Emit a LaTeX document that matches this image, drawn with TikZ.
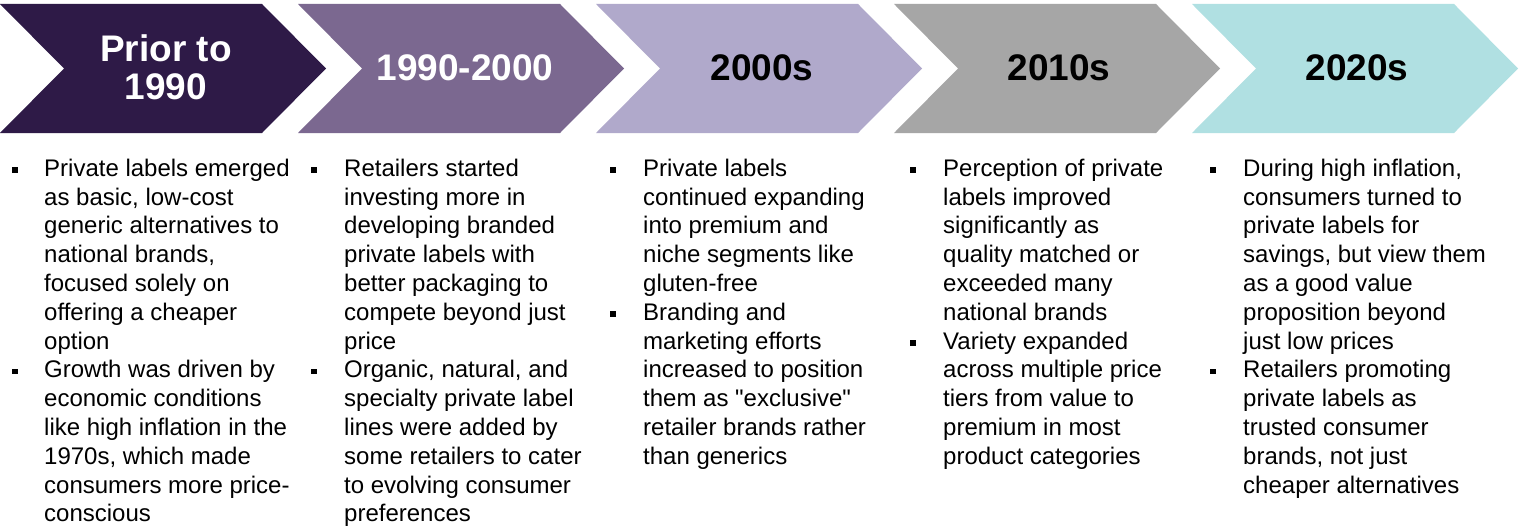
\documentclass[tikz,border=0pt]{standalone}
\usepackage{fontspec}
\setmainfont{Liberation Sans}[Ligatures=TeXOff]
\definecolor{c1}{HTML}{2E1A47}
\definecolor{c2}{HTML}{7B6890}
\definecolor{c3}{HTML}{B0A9CB}
\definecolor{c4}{HTML}{A6A6A6}
\definecolor{c5}{HTML}{B0E0E2}
\newcommand{\fs}{\rule{0pt}{20pt}}
\tikzset{
  head/.style={font=\bfseries\fontsize{37}{38.5}\selectfont, align=center, inner sep=0pt},
  body/.style={font=\fontsize{24}{28.8}\selectfont, align=left, anchor=north west, inner sep=0pt},
  sq/.style={fill=black, minimum size=5.5pt, inner sep=0pt, anchor=south west},
}
\newcommand{\chevpath}[2]{%
  \fill[#2] (#1,4) -- ++(262,0) -- ++(64,64.5) -- ++(-64,64.5) -- ++(-262,0) -- ++(64,-64.5) -- cycle;}
\begin{document}
\begin{tikzpicture}[x=1pt,y=-1pt]
\useasboundingbox[fill=white] (0,0) rectangle (1522,527);
% chevrons
\chevpath{0}{c1}
\chevpath{298}{c2}
\chevpath{596}{c3}
\chevpath{894}{c4}
\chevpath{1192}{c5}
\node[head, text=white] (h1) at (166,67.5) {Prior to\\1990};
\node[head, text=white] (h2) at (465,67.5) {1990-2000};
\node[head] (h3) at (762,67.5) {2000s};
\node[head] (h4) at (1059,67.5) {2010s};
\node[head] (h5) at (1357,67.5) {2020s};
% column 1
\node[sq] (b11) at (12,173) {};
\node[body] (t11) at (44,156) {\fs Private labels emerged\\as basic, low-cost\\generic alternatives to\\national brands,\\focused solely on\\offering a cheaper\\option};
\node[sq] (b12) at (12,{173+7*28.8}) {};
\node[body] (t12) at (44,{156+7*28.8}) {\fs Growth was driven by\\economic conditions\\like high inflation in the\\1970s, which made\\consumers more price-\\conscious};
% column 2
\node[sq] (b21) at (311,173) {};
\node[body] (t21) at (344,156) {\fs Retailers started\\investing more in\\developing branded\\private labels with\\better packaging to\\compete beyond just\\price};
\node[sq] (b22) at (311,{173+7*28.8}) {};
\node[body] (t22) at (344,{156+7*28.8}) {\fs Organic, natural, and\\specialty private label\\lines were added by\\some retailers to cater\\to evolving consumer\\preferences};
% column 3
\node[sq] (b31) at (610,173) {};
\node[body] (t31) at (643,156) {\fs Private labels\\continued expanding\\into premium and\\niche segments like\\gluten-free};
\node[sq] (b32) at (610,{173+5*28.8}) {};
\node[body] (t32) at (643,{156+5*28.8}) {\fs Branding and\\marketing efforts\\increased to position\\them as "exclusive"\\retailer brands rather\\than generics};
% column 4
\node[sq] (b41) at (910,173) {};
\node[body] (t41) at (943,156) {\fs Perception of private\\labels improved\\significantly as\\quality matched or\\exceeded many\\national brands};
\node[sq] (b42) at (910,{173+6*28.8}) {};
\node[body] (t42) at (943,{156+6*28.8}) {\fs Variety expanded\\across multiple price\\tiers from value to\\premium in most\\product categories};
% column 5
\node[sq] (b51) at (1210,173) {};
\node[body] (t51) at (1243,156) {\fs During high inflation,\\consumers turned to\\private labels for\\savings, but view them\\as a good value\\proposition beyond\\just low prices};
\node[sq] (b52) at (1210,{173+7*28.8}) {};
\node[body] (t52) at (1243,{156+7*28.8}) {\fs Retailers promoting\\private labels as\\trusted consumer\\brands, not just\\cheaper alternatives};
\end{tikzpicture}
\end{document}
